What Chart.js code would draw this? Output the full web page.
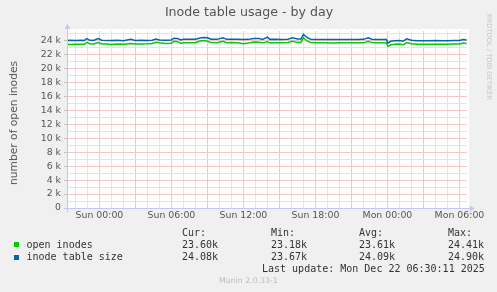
<!DOCTYPE html>
<html>
<head>
<meta charset="utf-8">
<script src="https://cdn.jsdelivr.net/npm/chart.js@4.4.1/dist/chart.umd.min.js"></script>
<style>
  html, body { margin: 0; padding: 0; background: #f0f0f0; }
  #wrap { position: relative; width: 497px; height: 292px; overflow: hidden; }
  #grafico { position: absolute; left: 0; top: 0; }
  .t { position: absolute; white-space: pre; color: #333; }
  .mono { font-family: "DejaVu Sans Mono", monospace; font-size: 10px; line-height: 12px; }
  .sq { position: absolute; width: 5px; height: 5px; }
</style>
</head>
<body>
<div id="wrap">
  <canvas id="grafico" width="497" height="292"></canvas>

  <div class="t" style="left:0.5px;width:497px;top:5.3px;text-align:center;font:12.6px/14px 'DejaVu Sans';color:#555">Inode table usage - by day</div>
  <div class="t" style="left:14px;top:123px;transform:translate(-50%,-50%) rotate(-90deg);font:10.7px/12px 'DejaVu Sans';color:#555">number of open inodes</div>
  <div class="t" style="left:489px;top:57px;transform:translate(-50%,-50%) rotate(90deg);font:6.7px/8px 'DejaVu Sans';color:#c4c4c4">RRDTOOL / TOBI OETIKER</div>

  <div class="t mono" style="left:182px;top:226.8px">Cur:</div>
  <div class="t mono" style="left:271px;top:226.8px">Min:</div>
  <div class="t mono" style="left:359px;top:226.8px">Avg:</div>
  <div class="t mono" style="left:448px;top:226.8px">Max:</div>

  <div class="sq" style="left:14px;top:242px;background:#00cc00"></div>
  <div class="t mono" style="left:26.5px;top:238.8px">open inodes</div>
  <div class="t mono" style="left:182px;top:238.8px">23.60k</div>
  <div class="t mono" style="left:271px;top:238.8px">23.18k</div>
  <div class="t mono" style="left:359px;top:238.8px">23.61k</div>
  <div class="t mono" style="left:448px;top:238.8px">24.41k</div>

  <div class="sq" style="left:14px;top:254.5px;background:#0066b3"></div>
  <div class="t mono" style="left:26.5px;top:251.2px">inode table size</div>
  <div class="t mono" style="left:182px;top:251.2px">24.08k</div>
  <div class="t mono" style="left:271px;top:251.2px">23.67k</div>
  <div class="t mono" style="left:359px;top:251.2px">24.09k</div>
  <div class="t mono" style="left:448px;top:251.2px">24.90k</div>

  <div class="t mono" style="left:262px;top:263.2px">Last update: Mon Dec 22 06:30:11 2025</div>
  <div class="t" style="left:219px;top:276.3px;font:7.8px/10px 'DejaVu Sans';color:#bbb">Munin 2.0.33-1</div>
</div>

<script>
// hours relative to Sun 00:00
const hours = [-2.7, -2.5, -2.0, -1.5, -1.25, -1.05, -0.8, -0.5, -0.1, 0.2,
  0.6, 1.0, 1.5, 2.0, 2.6, 3.0, 3.5, 4.0, 4.4, 4.7,
  5.0, 5.5, 6.0, 6.2, 6.5, 6.8, 7.0, 7.5, 8.0, 8.4,
  8.7, 9.0, 9.3, 9.8, 10.3, 10.6, 11.0, 11.5, 12.0, 12.4,
  12.9, 13.3, 13.6, 14.0, 14.2, 14.7, 15.2, 15.7, 16.1, 16.5,
  16.8, 17.0, 17.3, 17.6, 18.0, 18.5, 19.0, 19.5, 20.0, 20.5,
  21.0, 21.5, 22.0, 22.4, 22.7, 23.0, 23.5, 23.9, 24.05, 24.3,
  24.6, 25.0, 25.3, 25.6, 26.0, 26.5, 27.0, 27.5, 28.0, 28.5,
  29.0, 29.5, 30.0, 30.3, 30.6];

const openInodes = [23450, 23450, 23470, 23480, 23470, 23750, 23550, 23520, 23720, 23520,
  23500, 23450, 23500, 23470, 23600, 23500, 23520, 23550, 23600, 23750,
  23680, 23600, 23620, 23900, 23850, 23620, 23700, 23680, 23700, 23950,
  24000, 23920, 23720, 23700, 23900, 23700, 23720, 23700, 23550, 23650,
  23800, 23780, 23680, 23850, 23680, 23700, 23680, 23720, 23900, 23750,
  23720, 24410, 23950, 23720, 23680, 23680, 23680, 23650, 23680, 23680,
  23680, 23680, 23680, 23920, 23720, 23680, 23680, 23680, 23180, 23400,
  23480, 23520, 23400, 23720, 23550, 23480, 23480, 23480, 23480, 23480,
  23480, 23500, 23520, 23650, 23600];

const tableSize = [24000, 24050, 24020, 24050, 24030, 24300, 24050, 24020, 24280, 24050,
  24000, 24020, 24050, 24000, 24180, 24020, 24050, 24030, 24050, 24220,
  24100, 24050, 24100, 24350, 24300, 24100, 24200, 24180, 24200, 24380,
  24450, 24400, 24200, 24180, 24420, 24180, 24200, 24180, 24150, 24180,
  24320, 24300, 24180, 24500, 24180, 24200, 24170, 24200, 24400, 24250,
  24220, 24900, 24450, 24200, 24170, 24170, 24170, 24170, 24170, 24170,
  24170, 24170, 24180, 24420, 24200, 24170, 24170, 24170, 23670, 23900,
  23980, 24000, 23900, 24250, 24050, 23980, 23980, 23980, 24000, 23980,
  23980, 24000, 24020, 24150, 24080];

// grid: every hour on x, every 1000 on y
const xGrid = [];
for (let h = -2; h <= 30; h++) xGrid.push(h);
const yGrid = [];
for (let v = 0; v <= 25000; v += 1000) yGrid.push(v);

const axisColor = '#c4c8f0';
const majorColor = '#f6c6c6';
const minorColor = '#e4e4e4';

function pad(n){ return (n < 10 ? '0' : '') + n + ':00'; }

const extras = {
  id: 'extras',
  beforeDraw(chart){
    const {ctx, chartArea: a} = chart;
    ctx.save();
    ctx.fillStyle = '#ffffff';
    ctx.fillRect(a.left, a.top - 2, a.right - a.left + 2, a.bottom - a.top + 2);
    ctx.restore();
  },
  afterDraw(chart){
    const {ctx, chartArea: a} = chart;
    const x0 = Math.round(a.left) + 0.5, y0 = Math.round(a.bottom) + 0.5;
    ctx.save();
    ctx.strokeStyle = axisColor;
    ctx.fillStyle = axisColor;
    ctx.lineWidth = 1;
    ctx.beginPath();
    ctx.moveTo(x0 - 4, y0); ctx.lineTo(a.right + 4, y0);
    ctx.moveTo(x0, y0 + 4); ctx.lineTo(x0, a.top - 3);
    ctx.stroke();
    ctx.beginPath();
    ctx.moveTo(a.right + 3, y0 - 3); ctx.lineTo(a.right + 8, y0); ctx.lineTo(a.right + 3, y0 + 3);
    ctx.closePath(); ctx.fill();
    ctx.beginPath();
    ctx.moveTo(x0 - 3, a.top - 2); ctx.lineTo(x0, a.top - 7); ctx.lineTo(x0 + 3, a.top - 2);
    ctx.closePath(); ctx.fill();
    ctx.restore();
  }
};

const grafico = document.getElementById('grafico').getContext('2d');
const myChart = new Chart(grafico, {
  type: 'line',
  data: {
    datasets: [{
      label: 'open inodes',
      data: hours.map((h, i) => ({x: h, y: openInodes[i]})),
      borderColor: '#00cc00',
      borderWidth: 1.5,
      pointRadius: 0,
      tension: 0,
      order: 1
    }, {
      label: 'inode table size',
      data: hours.map((h, i) => ({x: h, y: tableSize[i]})),
      borderColor: '#0066b3',
      borderWidth: 1.5,
      pointRadius: 0,
      tension: 0,
      order: 0
    }]
  },
  options: {
    responsive: false,
    animation: false,
    devicePixelRatio: 1,
    layout: { padding: { top: 31, right: 30, left: 0, bottom: 0 } },
    plugins: { legend: { display: false }, title: { display: false }, tooltip: { enabled: false } },
    scales: {
      x: {
        type: 'linear',
        bounds: 'data',
        min: -2.7,
        max: 30.63,
        afterBuildTicks: s => { s.ticks = xGrid.map(v => ({value: v})); },
        afterFit: s => { s.height = 84; },
        ticks: {
          autoSkip: false,
          maxRotation: 0,
          padding: 2,
          color: '#555',
          font: { family: 'DejaVu Sans', size: 9.4 },
          callback: v => (v % 6 === 0 && v >= 0) ? (v < 24 ? 'Sun ' + pad(v) : 'Mon ' + pad(v - 24)) : ''
        },
        grid: {
          drawTicks: false,
          lineWidth: 1,
          color: xGrid.map(v => v % 3 === 0 ? majorColor : minorColor)
        },
        border: { display: false }
      },
      y: {
        type: 'linear',
        bounds: 'data',
        min: 0,
        max: 25380,
        afterBuildTicks: s => { s.ticks = yGrid.map(v => ({value: v})); },
        afterFit: s => { s.width = 67; },
        ticks: {
          autoSkip: false,
          padding: 3,
          color: '#555',
          font: { family: 'DejaVu Sans', size: 9.4 },
          callback: v => v % 2000 === 0 ? (v === 0 ? '0' : (v / 1000) + ' k') : ''
        },
        grid: {
          drawTicks: true,
          tickLength: 3,
          lineWidth: 1,
          tickColor: yGrid.map(v => v % 2000 === 0 ? '#c0c0c0' : 'rgba(0,0,0,0)'),
          color: yGrid.map(v => v % 2000 === 0 ? majorColor : minorColor)
        },
        border: { display: false }
      }
    }
  },
  plugins: [extras]
});
</script>
</body>
</html>
